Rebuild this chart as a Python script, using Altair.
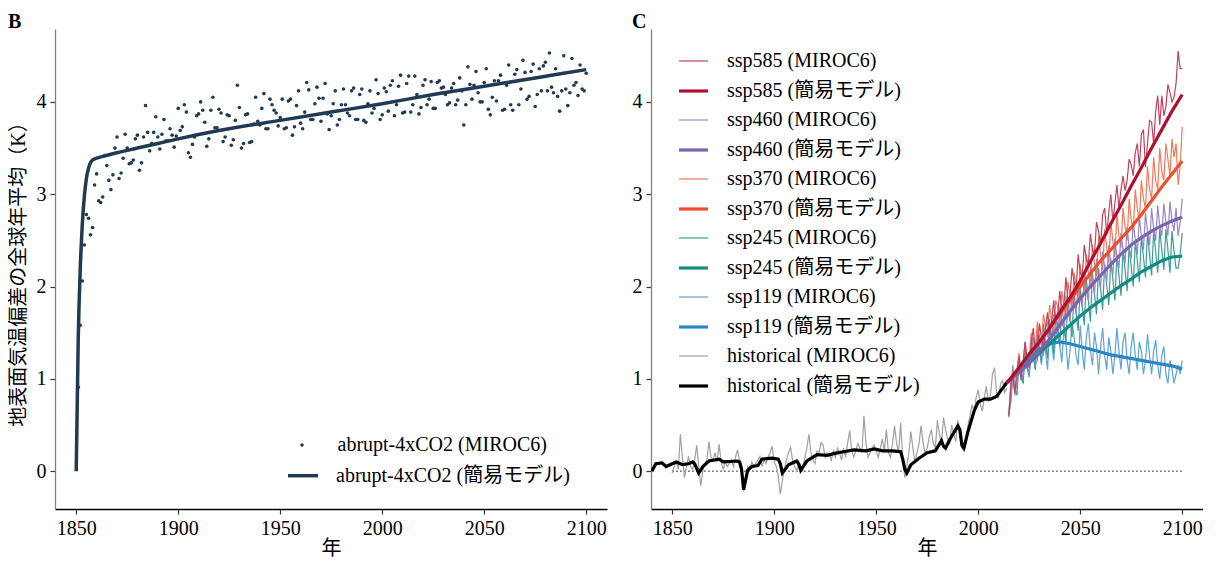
import altair as alt
import pandas as pd

FONT = "Liberation Serif, Noto Sans CJK JP"
NAVY = "#1f3a52"
XDOM = [1839.6, 2110.2]
YDOM = [-0.41, 4.79]
W, H = 552, 480

# ---------------- Panel B data ----------------
b_years = list(range(1851, 2101))
b_miroc = [
    0.91, 1.58, 2.06, 2.45, 2.78, 2.74, 2.56, 2.64, 3.10, 3.22,
    2.93, 2.91, 2.97, 3.42, 3.31, 3.15, 3.05, 3.21, 3.50, 3.62,
    3.17, 3.23, 3.39, 3.65, 3.50, 3.33, 3.34, 3.37, 3.60, 3.64,
    3.26, 3.34, 3.62, 3.96, 3.67, 3.47, 3.55, 3.67, 3.84, 3.62,
    3.49, 3.65, 3.81, 3.58, 3.58, 3.71, 3.64, 3.51, 3.63, 3.93,
    3.69, 3.73, 3.97, 3.89, 3.45, 3.40, 3.54, 3.62, 3.85, 3.87,
    4.00, 3.91, 3.78, 3.52, 3.60, 3.91, 4.05, 3.72, 3.72, 3.92,
    3.88, 3.57, 3.62, 3.86, 3.85, 3.53, 3.59, 3.80, 4.18, 3.94,
    3.50, 3.55, 3.86, 3.87, 3.56, 3.57, 3.76, 4.05, 3.79, 3.75,
    3.93, 4.09, 3.71, 3.71, 4.03, 3.97, 3.91, 3.88, 3.74, 3.83,
    4.03, 3.71, 3.72, 4.01, 4.03, 3.64, 3.73, 3.96, 4.12, 3.77,
    3.71, 3.89, 4.21, 4.13, 3.81, 3.81, 3.98, 4.16, 4.04, 3.79,
    4.04, 4.20, 3.87, 3.70,
    3.85, 3.98, 4.12, 3.75, 3.81, 3.97, 4.14, 3.97, 3.88, 3.85,
    4.12, 4.15, 3.81, 3.81, 4.08, 4.14, 3.80, 3.78, 3.98, 4.12,
    3.88, 3.93, 4.24, 4.09, 3.81, 3.86, 4.15, 4.11, 3.90, 4.18,
    4.23, 3.85, 3.97, 4.17, 4.29, 3.88, 3.89, 4.20, 4.28, 3.89,
    3.97, 4.28, 4.08, 3.87, 3.94, 4.18, 4.24, 3.97, 4.03, 4.22,
    3.93, 3.93, 4.21, 4.23, 4.15, 4.16, 4.08, 3.97, 3.99, 4.15,
    4.20, 3.97, 4.02, 4.26, 4.12, 3.75, 3.97, 4.38, 4.19, 4.03,
    4.18, 4.33, 4.10, 4.00, 4.00, 4.21, 4.36, 3.92, 3.86, 4.05,
    4.23, 4.01, 4.23, 4.29, 3.91, 3.92, 4.18, 4.40, 3.97, 3.91,
    4.30, 4.35, 3.97, 4.14, 4.45, 4.32, 4.03, 4.06, 4.33, 4.41,
    3.95, 4.08, 4.36, 4.12, 4.39, 4.43, 4.12, 4.53, 4.16, 4.10,
    4.36, 4.06, 3.90, 4.12, 4.50, 4.14, 3.96, 4.10, 4.47, 4.18,
    4.21, 4.07, 4.40, 4.14, 4.12, 4.31,
]
b_model_years = [1850, 1851, 1852, 1853, 1854, 1855, 1856, 1857, 1858, 1860, 1863,
                 1870, 1880, 1890, 1900, 1920, 1950, 1975, 2000, 2025, 2050, 2075, 2100]
b_model_vals = [0.0, 1.45, 2.20, 2.68, 2.98, 3.17, 3.28, 3.34, 3.37, 3.39, 3.41,
                3.45, 3.50, 3.55, 3.60, 3.69, 3.80, 3.89, 3.98, 4.08, 4.17, 4.26, 4.35]

# ---------------- Panel C data ----------------
hist_years = list(range(1850, 2015))
hist_miroc = [
    -0.02, 0.05, 0.10, 0.02, 0.40, 0.15, -0.07, 0.05, 0.16, 0.05,
    0.02, 0.12, 0.28, 0.05, -0.16, 0.00, 0.08, 0.12, 0.32, 0.15,
    0.12, 0.20, 0.10, 0.29, 0.10, 0.02, 0.10, 0.05, 0.08, 0.12,
    0.05, 0.15, 0.23, 0.12, 0.08, -0.22, -0.05, 0.05, 0.02, 0.10,
    0.05, 0.09, 0.12, 0.16, 0.05, 0.12, 0.08, 0.15, 0.20, 0.27,
    0.10, 0.05, -0.05, -0.25, -0.10, 0.02, 0.12, 0.20, 0.26, 0.12,
    0.05, 0.00, 0.10, 0.04, 0.00, 0.15, 0.25, 0.40, 0.20, 0.12,
    0.08, 0.22, 0.20, 0.31, 0.28, 0.15, 0.20, 0.18, 0.12, 0.22,
    0.15, 0.25, 0.20, 0.12, 0.25, 0.15, 0.30, 0.44, 0.22, 0.15,
    0.22, 0.30, 0.25, 0.20, 0.60, 0.30, 0.15, 0.20, 0.25, 0.28,
    0.22, 0.15, 0.25, 0.35, 0.22, 0.45, 0.20, 0.15, 0.30, 0.49,
    0.30, 0.20, 0.52, 0.15, -0.07, 0.05, 0.20, 0.43, 0.25, 0.10,
    0.20, 0.30, 0.49, 0.30, 0.20, 0.25, 0.37, 0.45, 0.30, 0.25,
    0.55, 0.40, 0.30, 0.58, 0.45, 0.35, 0.30, 0.50, 0.40, 0.32,
    0.55, 0.45, 0.25, 0.22, 0.30, 0.50, 0.60, 0.72, 0.65, 0.80,
    0.88, 0.72, 0.65, 0.80, 0.92, 0.75, 0.82, 1.05, 1.12, 0.85,
    0.80, 0.95, 0.98, 0.85, 0.90,
]
hist_model_years = [1840, 1842, 1845, 1847, 1850, 1852, 1855, 1858, 1860, 1861, 1863, 1865,
                    1868, 1873, 1875, 1882, 1883, 1884, 1885, 1887, 1889, 1892, 1894, 1899,
                    1902, 1903, 1904, 1907, 1911, 1912, 1913, 1916, 1921, 1926, 1929, 1934,
                    1939, 1945, 1949, 1953, 1958, 1962, 1963, 1964, 1965, 1967, 1971, 1975,
                    1979, 1982, 1983, 1984, 1986, 1990, 1991, 1992, 1993, 1995, 1998, 2000,
                    2003, 2006, 2009, 2012, 2014]
hist_model_vals = [0.00, 0.08, 0.09, 0.05, 0.08, 0.10, 0.07, 0.08, 0.10, 0.08, -0.02, 0.05,
                   0.11, 0.13, 0.10, 0.11, 0.10, 0.02, -0.20, 0.01, 0.05, 0.06, 0.13, 0.14,
                   0.13, 0.08, -0.02, 0.07, 0.11, 0.08, 0.01, 0.11, 0.18, 0.17, 0.19, 0.21,
                   0.23, 0.22, 0.24, 0.22, 0.22, 0.21, 0.13, 0.02, -0.02, 0.07, 0.14, 0.20,
                   0.22, 0.33, 0.27, 0.25, 0.34, 0.49, 0.45, 0.28, 0.25, 0.43, 0.65, 0.75,
                   0.78, 0.78, 0.81, 0.90, 0.96]

ssp_years = list(range(2015, 2101))
ssp585_miroc = [
    0.60, 0.95, 1.05, 0.85, 1.10, 1.25, 1.00, 1.18, 1.40, 1.20,
    1.12, 1.38, 1.55, 1.30, 1.25, 1.60, 1.45, 1.35, 1.55, 1.72,
    1.48, 1.62, 1.85, 1.60, 1.70, 1.95, 1.75, 1.80, 2.10, 1.85,
    1.90, 2.20, 2.05, 1.95, 2.35, 2.15, 2.10, 2.45, 2.30, 2.25,
    2.57, 2.40, 2.35, 2.70, 2.60, 2.45, 2.78, 2.85, 2.55, 2.80,
    3.00, 2.70, 2.90, 3.10, 2.85, 3.05, 3.20, 3.04, 3.15, 3.38,
    3.32, 3.20, 3.45, 3.55, 3.30, 3.65, 3.70, 3.29, 3.55, 3.80,
    3.78, 3.55, 3.90, 4.07, 3.75, 4.07, 3.85, 3.95, 4.19, 4.10,
    4.00, 4.05, 4.20, 4.55, 4.36, 4.36,
]
ssp370_miroc = [
    0.62, 0.80, 1.10, 0.90, 0.95, 1.28, 1.05, 1.15, 1.40, 1.18,
    1.22, 1.50, 1.30, 1.35, 1.62, 1.42, 1.38, 1.70, 1.55, 1.45,
    1.80, 1.62, 1.50, 1.85, 1.78, 1.60, 1.95, 1.80, 1.68, 2.05,
    1.90, 1.75, 2.15, 2.00, 1.85, 2.25, 2.05, 1.95, 2.35, 2.15,
    2.02, 2.45, 2.25, 2.10, 2.55, 2.35, 2.18, 2.62, 2.42, 2.25,
    2.70, 2.50, 2.32, 2.78, 2.55, 2.42, 2.85, 2.65, 2.50, 2.95,
    2.72, 2.60, 3.05, 2.85, 2.70, 3.15, 2.95, 2.85, 3.30, 3.05,
    2.95, 3.40, 3.15, 3.05, 3.50, 3.25, 3.15, 3.55, 3.38, 3.20,
    3.60, 3.40, 3.55, 3.10, 3.30, 3.73,
]
ssp460_miroc = [
    0.58, 0.85, 1.00, 0.82, 0.95, 1.15, 0.98, 1.05, 1.28, 1.10,
    1.05, 1.30, 1.45, 1.15, 1.20, 1.48, 1.35, 1.25, 1.55, 1.62,
    1.35, 1.42, 1.70, 1.58, 1.45, 1.78, 1.60, 1.55, 1.90, 1.75,
    1.62, 1.95, 1.85, 1.70, 2.05, 1.88, 1.78, 2.12, 1.95, 1.85,
    2.22, 2.05, 1.92, 2.30, 2.10, 1.98, 2.38, 2.20, 2.05, 2.45,
    2.25, 2.12, 2.52, 2.32, 2.20, 2.58, 2.40, 2.25, 2.65, 2.42,
    2.30, 2.70, 2.50, 2.35, 2.75, 2.55, 2.40, 2.80, 2.60, 2.45,
    2.85, 2.62, 2.50, 2.88, 2.65, 2.55, 2.90, 2.70, 2.55, 2.92,
    2.72, 2.60, 2.85, 2.55, 2.70, 2.95,
]
ssp245_miroc = [
    0.60, 0.75, 1.05, 0.90, 0.82, 1.18, 1.05, 0.95, 1.30, 1.12,
    1.02, 1.40, 1.25, 1.10, 1.48, 1.30, 1.18, 1.60, 1.38, 1.22,
    1.65, 1.45, 1.28, 1.72, 1.52, 1.35, 1.80, 1.60, 1.40, 1.88,
    1.65, 1.45, 1.95, 1.72, 1.52, 2.00, 1.78, 1.58, 2.08, 1.85,
    1.62, 2.15, 1.92, 1.70, 2.20, 1.98, 1.75, 2.25, 2.02, 1.80,
    2.30, 2.08, 1.85, 2.35, 2.12, 1.90, 2.40, 2.18, 1.95, 2.45,
    2.22, 2.00, 2.50, 2.28, 2.05, 2.55, 2.32, 2.10, 2.58, 2.35,
    2.12, 2.60, 2.38, 2.15, 2.62, 2.40, 2.18, 2.62, 2.40, 2.15,
    2.60, 2.38, 2.20, 2.20, 2.35, 2.58,
]
ssp119_miroc = [
    0.62, 0.90, 1.15, 0.85, 1.00, 1.25, 1.05, 0.95, 1.35, 1.15,
    1.05, 1.45, 1.25, 1.10, 1.55, 1.35, 1.15, 1.50, 1.30, 1.10,
    1.55, 1.40, 1.20, 1.45, 1.62, 1.35, 1.18, 1.55, 1.40, 1.10,
    1.30, 1.62, 1.45, 1.25, 1.15, 1.58, 1.30, 1.10, 1.45, 1.60,
    1.30, 1.15, 1.50, 1.35, 1.05, 1.35, 1.55, 1.25, 1.10, 1.45,
    1.30, 1.05, 1.25, 1.55, 1.30, 1.10, 1.40, 1.50, 1.20, 1.05,
    1.35, 1.50, 1.25, 1.10, 1.40, 1.30, 1.05, 1.20, 1.48, 1.25,
    1.05, 1.30, 1.42, 1.15, 1.00, 1.25, 1.35, 1.05, 0.95, 1.20,
    1.10, 0.95, 1.05, 1.15, 1.05, 1.20,
]
ssp_model_years = [2014, 2015, 2020, 2025, 2030, 2035, 2040, 2045, 2050, 2055,
                   2060, 2065, 2070, 2075, 2080, 2085, 2090, 2095, 2100]
ssp585_model = [0.96, 0.98, 1.12, 1.27, 1.40, 1.55, 1.72, 1.88, 2.06, 2.27,
                2.47, 2.68, 2.88, 3.09, 3.29, 3.50, 3.70, 3.90, 4.08]
ssp370_model = [0.96, 0.98, 1.12, 1.26, 1.40, 1.55, 1.70, 1.85, 2.00, 2.14,
                2.28, 2.40, 2.52, 2.64, 2.78, 2.93, 3.08, 3.22, 3.36]
ssp460_model = [0.96, 0.98, 1.07, 1.17, 1.30, 1.43, 1.58, 1.73, 1.87, 2.00,
                2.12, 2.24, 2.35, 2.45, 2.53, 2.60, 2.66, 2.71, 2.75]
ssp245_model = [0.96, 0.98, 1.07, 1.17, 1.28, 1.38, 1.48, 1.58, 1.68, 1.77,
                1.85, 1.93, 2.01, 2.08, 2.16, 2.22, 2.28, 2.32, 2.33]
ssp119_model = [0.96, 0.98, 1.10, 1.22, 1.32, 1.38, 1.40, 1.38, 1.35, 1.32,
                1.29, 1.26, 1.24, 1.22, 1.20, 1.18, 1.16, 1.14, 1.11]

zero_line = {"x": [1850], "x2": [2100], "y": [0.0]}

series_names = [
    "ssp585 (MIROC6)", "ssp585 (簡易モデル)",
    "ssp460 (MIROC6)", "ssp460 (簡易モデル)",
    "ssp370 (MIROC6)", "ssp370 (簡易モデル)",
    "ssp245 (MIROC6)", "ssp245 (簡易モデル)",
    "ssp119 (MIROC6)", "ssp119 (簡易モデル)",
    "historical (MIROC6)", "historical (簡易モデル)",
]
series_colors = [
    "#c0415e", "#b0102e",
    "#9787c2", "#7a64ae",
    "#f07a5c", "#ee4d2e",
    "#3a9e98", "#168a84",
    "#5aa4d6", "#2b87c3",
    "#a0a0a0", "#000000",
]
series_widths = [1.2, 3.2] * 6

# ---------------- helpers ----------------
def x_enc():
    return alt.X("year:Q", scale=alt.Scale(domain=XDOM, nice=False, zero=False),
                 axis=alt.Axis(values=[1850, 1900, 1950, 2000, 2050, 2100], format="d",
                               title="年", titlePadding=0, domainColor="#000000"))

def y_enc(title):
    if title:
        ax = alt.Axis(values=[0, 1, 2, 3, 4], format="d", title=title, titlePadding=8,
                      domainColor="#808080")
    else:
        ax = alt.Axis(values=[0, 1, 2, 3, 4], format="d", title=None, domainColor="#808080")
    return alt.Y("val:Q", scale=alt.Scale(domain=YDOM, nice=False, zero=False), axis=ax)

# ---------------- Panel B ----------------
dfB = pd.DataFrame({"year": b_years, "val": b_miroc, "s": "abrupt-4xCO2 (MIROC6)"})
dfBm = pd.DataFrame({"year": b_model_years, "val": b_model_vals, "s": "abrupt-4xCO2 (簡易モデル)"})

ytitle = "地表面気温偏差の全球年平均（K）"
ptsB = alt.Chart(dfB).mark_circle(size=13, opacity=1).encode(
    x=x_enc(), y=y_enc(ytitle),
    color=alt.Color("s:N", scale=alt.Scale(domain=["abrupt-4xCO2 (MIROC6)"], range=[NAVY]),
                    legend=alt.Legend(orient="none", legendX=237, legendY=406, title=None,
                                      symbolType="circle", symbolSize=13, labelOffset=25.5,
                                      padding=0)),
)
lineB = alt.Chart(dfBm).mark_line(strokeWidth=3.5, interpolate="monotone").encode(
    x=x_enc(), y=y_enc(ytitle),
    stroke=alt.Stroke("s:N", scale=alt.Scale(domain=["abrupt-4xCO2 (簡易モデル)"], range=[NAVY]),
                      legend=alt.Legend(orient="none", legendX=231, legendY=429.7, title=None,
                                        symbolType="stroke", symbolSize=900,
                                        symbolStrokeWidth=3.5, labelOffset=16, padding=0)),
)
panelB = alt.layer(ptsB, lineB).resolve_scale(color="independent").properties(
    width=W, height=H, title=alt.TitleParams("B"))

# ---------------- Panel C ----------------
legC = alt.Legend(orient="none", legendX=622, legendY=16.5, title=None, symbolType="stroke",
                  symbolSize=841, labelOffset=17, padding=0, rowPadding=3)
cscale = alt.Scale(domain=series_names, range=series_colors)
wscale = alt.Scale(type="ordinal", domain=series_names, range=series_widths)

def line_layer(years, vals, name):
    df = pd.DataFrame({"year": years, "val": vals, "s": name})
    return alt.Chart(df).mark_line(clip=True).encode(
        x=x_enc(), y=y_enc(None),
        color=alt.Color("s:N", scale=cscale, legend=legC),
        strokeWidth=alt.StrokeWidth("s:N", scale=wscale, legend=legC),
    )

zero = alt.Chart(pd.DataFrame(zero_line)).mark_rule(
    color="black", strokeWidth=1, strokeDash=[1.5, 2.5]).encode(
    x=alt.X("x:Q", scale=alt.Scale(domain=XDOM, nice=False, zero=False)), x2="x2:Q",
    y=alt.Y("y:Q", scale=alt.Scale(domain=YDOM, nice=False, zero=False)))

layersC = [
    zero,
    line_layer(hist_years, hist_miroc, "historical (MIROC6)"),
    line_layer(ssp_years, ssp119_miroc, "ssp119 (MIROC6)"),
    line_layer(ssp_years, ssp245_miroc, "ssp245 (MIROC6)"),
    line_layer(ssp_years, ssp370_miroc, "ssp370 (MIROC6)"),
    line_layer(ssp_years, ssp460_miroc, "ssp460 (MIROC6)"),
    line_layer(ssp_years, ssp585_miroc, "ssp585 (MIROC6)"),
    line_layer(hist_model_years, hist_model_vals, "historical (簡易モデル)"),
    line_layer(ssp_model_years, ssp119_model, "ssp119 (簡易モデル)"),
    line_layer(ssp_model_years, ssp245_model, "ssp245 (簡易モデル)"),
    line_layer(ssp_model_years, ssp370_model, "ssp370 (簡易モデル)"),
    line_layer(ssp_model_years, ssp460_model, "ssp460 (簡易モデル)"),
    line_layer(ssp_model_years, ssp585_model, "ssp585 (簡易モデル)"),
]
panelC = alt.layer(*layersC).properties(width=W, height=H, title=alt.TitleParams("C"))

chart = alt.hconcat(panelB, panelC, spacing=25).properties(
    padding={"left": 0, "top": 4, "right": 0, "bottom": 0}
).configure_view(stroke=None).configure_axis(
    labelFont=FONT, titleFont=FONT, labelFontSize=20, titleFontSize=20,
    labelColor="black", titleColor="black", titleFontWeight="normal",
    tickColor="#333333", tickSize=5, tickWidth=1.2, domainWidth=1.3,
    labelPadding=4, grid=False,
).configure_legend(
    labelFont=FONT, labelFontSize=20, labelColor="black", labelLimit=400,
).configure_title(
    font=FONT, fontSize=20, fontWeight="bold", anchor="start", frame="bounds",
    offset=-3, color="black",
)

chart.save("out.html", embed_options={"renderer": "svg", "actions": False})
